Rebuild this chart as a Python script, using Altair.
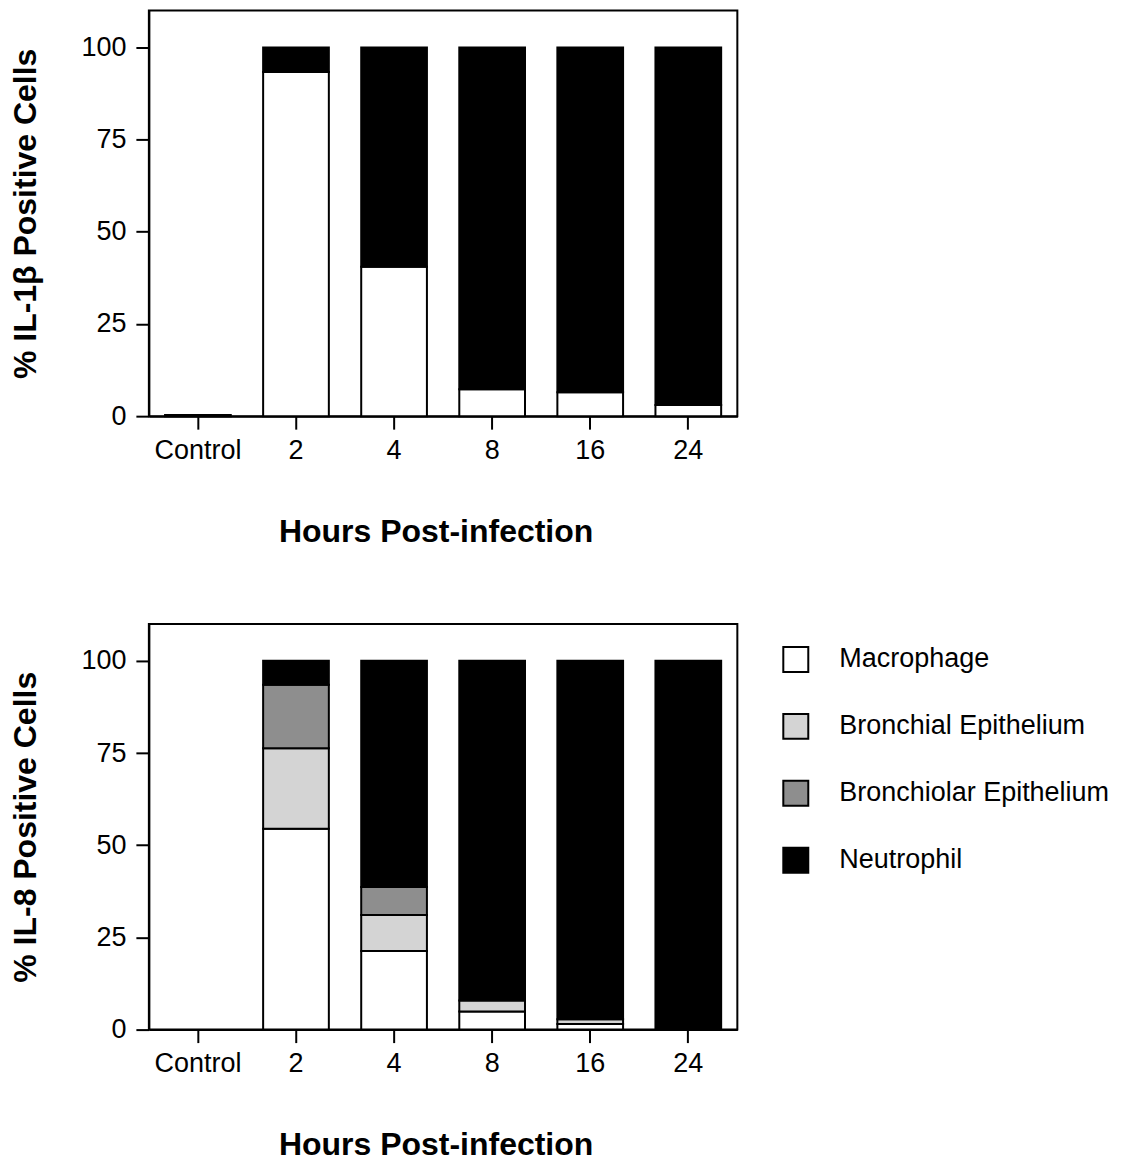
import altair as alt
import pandas as pd

# ---- data ----
times = ["Control", "2", "4", "8", "16", "24"]
cell_types = ["Macrophage", "Bronchial Epithelium", "Bronchiolar Epithelium", "Neutrophil"]
cell_colors = ["#ffffff", "#d4d4d4", "#8e8e8e", "#000000"]

il1b_macrophage = [0.3, 93.3, 40.5, 7.3, 6.5, 3.0]
il1b_bronchial = [0, 0, 0, 0, 0, 0]
il1b_bronchiolar = [0, 0, 0, 0, 0, 0]
il1b_neutrophil = [0, 6.7, 59.5, 92.7, 93.5, 97.0]

il8_macrophage = [0, 54.5, 21.3, 4.9, 1.5, 0]
il8_bronchial = [0, 21.8, 9.8, 3.0, 1.3, 0]
il8_bronchiolar = [0, 17.2, 7.6, 0, 0, 0]
il8_neutrophil = [0, 6.5, 61.3, 92.1, 97.2, 100]

y_ticks = [0, 25, 50, 75, 100]

FONT = "Liberation Sans"


def make_df(series):
    rows = []
    for k, (cell, vals) in enumerate(zip(cell_types, series)):
        for t, v in zip(times, vals):
            if v > 0:
                rows.append({"time": t, "cell": cell, "value": v, "k": k})
    return pd.DataFrame(rows)


df_il1b = make_df([il1b_macrophage, il1b_bronchial, il1b_bronchiolar, il1b_neutrophil])
df_il8 = make_df([il8_macrophage, il8_bronchial, il8_bronchiolar, il8_neutrophil])


def panel(df, ytitle, legend):
    return alt.Chart(df).mark_bar(stroke="black", strokeWidth=2).encode(
        x=alt.X(
            "time:N",
            scale=alt.Scale(domain=times, paddingInner=0.33, paddingOuter=0.165),
            axis=alt.Axis(title="Hours Post-infection", labelAngle=0, tickSize=13,
                          labelPadding=8, titlePadding=53, titleX=287, titleAlign="center"),
        ),
        y=alt.Y(
            "value:Q",
            stack="zero",
            scale=alt.Scale(domain=[0, 110], nice=False),
            axis=alt.Axis(title=ytitle, values=y_ticks, grid=False, tickSize=13,
                          labelPadding=10, titlePadding=38),
        ),
        color=alt.Color("cell:N", scale=alt.Scale(domain=cell_types, range=cell_colors),
                        legend=legend),
        order=alt.Order("k:Q", sort="ascending"),
    ).properties(width=589, height=406)


top = panel(df_il1b, "% IL-1β Positive Cells", None)
bottom = panel(
    df_il8,
    "% IL-8 Positive Cells",
    alt.Legend(title=None, orient="none", legendX=634, legendY=22, symbolType="square",
               symbolSize=625, symbolStrokeColor="black", symbolStrokeWidth=2,
               labelFontSize=27, labelFont=FONT, labelColor="black", labelOffset=30,
               labelLimit=0, rowPadding=34, padding=0),
)

chart = alt.vconcat(top, bottom, spacing=75).resolve_scale(color="independent").properties(
    padding={"left": 0, "top": 1, "right": 5, "bottom": 5},
    background="white",
).configure_view(stroke="black", strokeWidth=2).configure_axis(
    domainColor="black", domainWidth=2, tickColor="black", tickWidth=2,
    labelColor="black", titleColor="black", labelFont=FONT, titleFont=FONT,
    labelFontSize=27, titleFontSize=32, titleFontWeight="bold",
)

chart.save("out.html", embed_options={"renderer": "svg", "actions": False})
